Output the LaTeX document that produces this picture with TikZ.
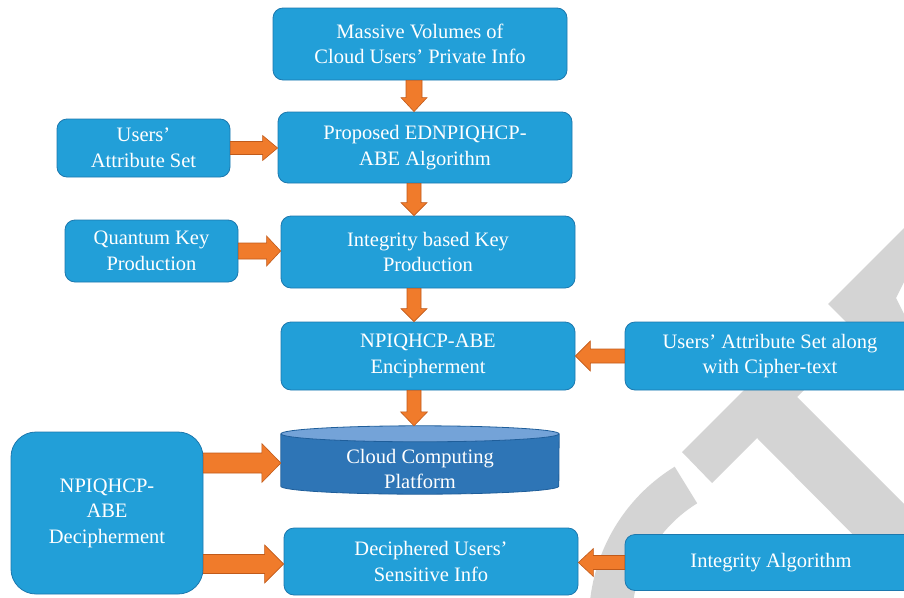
\documentclass[tikz,border=0pt]{standalone}
\usepackage{fontspec}
\setmainfont{Liberation Serif}
\usetikzlibrary{calc}
\definecolor{boxblue}{HTML}{229FD8}
\definecolor{boxedge}{HTML}{1C78AE}
\definecolor{cylside}{HTML}{2E75B6}
\definecolor{cyllight}{HTML}{74A3D8}
\definecolor{cyledge}{HTML}{1F5E9A}
\definecolor{arrfill}{HTML}{F07B2B}
\definecolor{arredge}{HTML}{C05A1A}
\definecolor{wmgray}{HTML}{D4D4D4}
\newcommand\boxfont{\fontsize{20.5}{25.5}\selectfont}
\tikzset{
  box/.style={draw=boxedge, fill=boxblue, line width=0.8pt, rounded corners=10pt,
    text=white, align=center, inner sep=0pt, font=\boxfont},
  cyltext/.style={text=white, align=center, inner sep=0pt, font=\boxfont},
  blockarr/.style={fill=arrfill, draw=arredge, line width=0.6pt, line join=miter}
}
% #1 from, #2 to, #3 shaft half width, #4 head half width, #5 head length
\newcommand\blockarrow[5]{%
  \coordinate (ba-h) at ($(#2)!#5!(#1)$);
  \filldraw[blockarr] ($(#1)!#3!90:(#2)$) -- ($(ba-h)!#3!90:(#2)$) -- ($(ba-h)!#4!90:(#2)$)
    -- (#2) -- ($(ba-h)!#4!-90:(#2)$) -- ($(ba-h)!#3!-90:(#2)$) -- ($(#1)!#3!-90:(#2)$) -- cycle;
}
\begin{document}
\begin{tikzpicture}[x=1pt,y=-1pt]
\useasboundingbox (0,0) rectangle (904,597);
\clip (0,0) rectangle (904,597);

% watermark
\fill[wmgray] (904,228) -- (828,304) -- (846,322) -- (904,322) -- (904,314) -- (896,298) -- (904,282) -- cycle;
\fill[wmgray] (744,390) -- (804,390) -- (797,397) -- (904,504) -- (904,586) -- (757,438)
  -- (712,483) -- (682,452) -- cycle;
\coordinate (wc) at (769,620);
\fill[wmgray] ($(wc)+(121.6:180pt)$) arc[start angle=121.6, end angle=205, radius=180pt]
  -- ($(wc)+(205:137pt)$) arc[start angle=205, end angle=121.6, radius=137pt] -- cycle;

% boxes
\node[box, minimum width=294, minimum height=72] (m) at (420,44) {Massive Volumes of\\Cloud Users’ Private Info};
\node[box, minimum width=294, minimum height=71] (p) at (425,147.5) {Proposed EDNPIQHCP-\\ABE Algorithm};
\node[box, minimum width=173, minimum height=58] (ua) at (143.5,148) {Users’\\Attribute Set};
\node[box, minimum width=294, minimum height=72] (ik) at (428,252) {Integrity based Key\\Production};
\node[box, minimum width=173, minimum height=62] (qk) at (151.5,251) {Quantum Key\\Production};
\node[box, minimum width=294, minimum height=68] (enc) at (428,356) {NPIQHCP-ABE\\Encipherment};
\node[box, minimum width=290, minimum height=68] (ual) at (770,356) {Users’ Attribute Set along\\with Cipher-text};
\node[box, minimum width=192, minimum height=162, rounded corners=25pt] (dec) at (107,513) {NPIQHCP-\\ABE\\Decipherment};
\node[box, minimum width=294, minimum height=67] (dci) at (431,561.5) {Deciphered Users’\\Sensitive Info};
\node[box, minimum width=292, minimum height=56] (ia) at (771,562.5) {Integrity Algorithm};

% cylinder
\node[minimum width=278, minimum height=52, inner sep=0pt] (cyl) at (420,460) {};
\fill[cylside] (cyl.north west) rectangle (cyl.south east);
\fill[cylside] (cyl.south) ellipse[x radius=139pt, y radius=8pt];
\draw[cyledge, line width=0.8pt] (cyl.north west) -- (cyl.south west)
  arc[start angle=180, end angle=360, x radius=139pt, y radius=8pt] -- (cyl.north east);
\filldraw[fill=cyllight, draw=cyledge, line width=0.8pt] (cyl.north) ellipse[x radius=139pt, y radius=8pt];
\node[cyltext] (cylt) at (420,469) {Cloud Computing\\Platform};

% arrows
\coordinate (vx) at (414,0);
\coordinate (ctop) at ($(cyl.north)+(0,-8)$);
\coordinate (r1) at (0,463);
\coordinate (r2) at (0,564);
\blockarrow{vx |- m.south}{vx |- p.north}{8pt}{13pt}{14pt}
\blockarrow{vx |- p.south}{vx |- ik.north}{7pt}{13pt}{13pt}
\blockarrow{vx |- ik.south}{vx |- enc.north}{7pt}{13pt}{13pt}
\blockarrow{vx |- enc.south}{vx |- ctop}{7pt}{13.5pt}{14pt}
\blockarrow{ua.east}{ua.east -| p.west}{6.5pt}{12.5pt}{15pt}
\blockarrow{qk.east}{qk.east -| ik.west}{8pt}{15pt}{14pt}
\blockarrow{ual.west}{ual.west -| enc.east}{7pt}{15pt}{15pt}
\blockarrow{ia.west}{ia.west -| dci.east}{7pt}{14pt}{15pt}
\blockarrow{dec.east |- r1}{cyl.west |- r1}{10pt}{19.5pt}{19pt}
\blockarrow{dec.east |- r2}{dci.west |- r2}{9.5pt}{19pt}{19pt}
\end{tikzpicture}
\end{document}
